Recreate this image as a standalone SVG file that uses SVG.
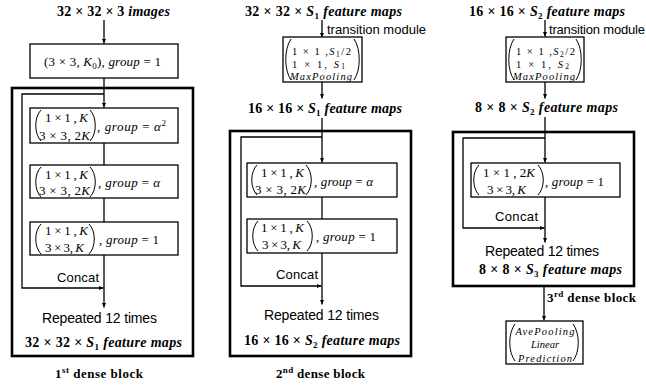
<svg xmlns="http://www.w3.org/2000/svg" width="646" height="386" viewBox="0 0 646 386">
<defs>
<marker id="ah" markerWidth="6" markerHeight="6" refX="5" refY="2.5" orient="auto" markerUnits="userSpaceOnUse"><path d="M0,0.3 L5,2.5 L0,4.7 z" fill="#000"/></marker>
<style>
.t{font-family:"Liberation Serif",serif;font-weight:bold;font-size:14px;fill:#000}
.i{font-style:italic}
.sub{font-size:9px}
.s{font-family:"Liberation Sans",Arial,sans-serif;font-size:13px;fill:#000}
.r{font-family:"Liberation Sans",Arial,sans-serif;font-size:14px;fill:#000}
.m{font-family:"Liberation Serif",serif;font-size:13px;fill:#000}
.mm{font-family:"Liberation Serif",serif;font-size:10.5px;fill:#000}
.b{font-family:"Liberation Serif",serif;font-weight:bold;font-size:13px;fill:#000}
.box{fill:#fff;stroke:#000;stroke-width:1.3}
.thick{fill:none;stroke:#000;stroke-width:2.6}
.ln{fill:none;stroke:#000;stroke-width:1.3}
.par{fill:none;stroke:#000;stroke-width:1}
</style>
</defs>
<rect width="646" height="386" fill="#fff"/>

<!-- thick block frames -->
<g id="block1"><rect class="thick" x="12" y="88" width="181" height="268"/></g>
<g id="block2"><rect class="thick" x="230" y="131" width="181" height="225"/></g>
<g id="block3"><rect class="thick" x="453" y="132" width="181" height="154"/></g>

<g id="connectors">
<!-- column 1 -->
<path class="ln" d="M104,20 V43.5" marker-end="url(#ah)"/>
<path class="ln" d="M104,78 V107.5" marker-end="url(#ah)"/>
<path class="ln" d="M104,94 H22 V288 H103.5" marker-end="url(#ah)"/>
<path class="ln" d="M104,143 V165"/>
<path class="ln" d="M104,198 V222"/>
<path class="ln" d="M104,255 V307.5" marker-end="url(#ah)"/>
<!-- column 2 -->
<path class="ln" d="M322,20 V37.5" marker-end="url(#ah)"/>
<path class="ln" d="M322,82 V98.5" marker-end="url(#ah)"/>
<path class="ln" d="M322,118 V162.5" marker-end="url(#ah)"/>
<path class="ln" d="M322,137 H241 V286 H321.5" marker-end="url(#ah)"/>
<path class="ln" d="M322,197 V219"/>
<path class="ln" d="M322,253 V304.5" marker-end="url(#ah)"/>
<!-- column 3 -->
<path class="ln" d="M545,20 V36.5" marker-end="url(#ah)"/>
<path class="ln" d="M545,82 V98.5" marker-end="url(#ah)"/>
<path class="ln" d="M545,117 V162.5" marker-end="url(#ah)"/>
<path class="ln" d="M545,138 H463 V228 H544.5" marker-end="url(#ah)"/>
<path class="ln" d="M545,197 V242.5" marker-end="url(#ah)"/>
<path class="ln" d="M544,286 V320.5" marker-end="url(#ah)"/>
</g>

<!-- column 1 -->
<g id="label-input"><text class="t" x="113.5" y="16" text-anchor="middle" textLength="113">32 × 32 × 3 <tspan class="i">images</tspan></text></g>

<g id="conv0">
<rect class="box" x="30" y="44" width="148" height="34"/>
<text class="m" x="44" y="66" textLength="117">(3 × 3, <tspan class="i">K</tspan><tspan class="sub" dy="3">0</tspan><tspan dy="-3">), </tspan><tspan class="i">group</tspan> = 1</text>
</g>

<g id="b1-n1">
<rect class="box" x="30" y="108" width="148" height="35"/>
<path class="par" d="M41,110 C34,117 34,134 41,141"/>
<path class="par" d="M90,110 C97,117 97,134 90,141"/>
<text class="m" x="45" y="122" textLength="43">1 × 1 , <tspan class="i">K</tspan></text>
<text class="m" x="39" y="139.5" textLength="51">3 × 3, 2<tspan class="i">K</tspan></text>
<text class="m" x="97" y="131" textLength="69">, <tspan class="i">group</tspan> = <tspan class="i">α</tspan><tspan class="sub" dy="-5">2</tspan></text>
</g>

<g id="b1-n2">
<rect class="box" x="30" y="165" width="148" height="33"/>
<path class="par" d="M41,167 C34,174 34,190 41,197"/>
<path class="par" d="M90,167 C97,174 97,190 90,197"/>
<text class="m" x="45" y="178.5" textLength="43">1 × 1 , <tspan class="i">K</tspan></text>
<text class="m" x="39" y="195" textLength="51">3 × 3, 2<tspan class="i">K</tspan></text>
<text class="m" x="98" y="187" textLength="62">, <tspan class="i">group</tspan> = <tspan class="i">α</tspan></text>
</g>

<g id="b1-n3">
<rect class="box" x="30" y="222" width="148" height="33"/>
<path class="par" d="M41,224 C34,231 34,247 41,254"/>
<path class="par" d="M89,224 C96,231 96,247 89,254"/>
<text class="m" x="45" y="235" textLength="43">1 × 1 , <tspan class="i">K</tspan></text>
<text class="m" x="45" y="252" textLength="39">3 × 3, <tspan class="i">K</tspan></text>
<text class="m" x="99" y="244" textLength="60">, <tspan class="i">group</tspan> = 1</text>
</g>

<g id="b1-labels">
<text class="s" x="57" y="282" textLength="42">Concat</text>
<text class="r" x="42" y="323" textLength="115">Repeated 12 times</text>
<text class="t" x="103.5" y="347" text-anchor="middle" textLength="157">32 × 32 × <tspan class="i">S</tspan><tspan class="sub" dy="3">1</tspan><tspan class="i" dy="-3"> feature maps</tspan></text>
<text class="b" x="55" y="378" textLength="88">1<tspan font-size="9" dy="-5">st</tspan><tspan dy="5"> dense block</tspan></text>
</g>

<!-- column 2 -->
<g id="label-c2-in"><text class="t" x="323.5" y="16" text-anchor="middle" textLength="157">32 × 32 × <tspan class="i">S</tspan><tspan class="sub" dy="3">1</tspan><tspan class="i" dy="-3"> feature maps</tspan></text></g>
<g id="label-t1"><text class="s" x="327" y="34" textLength="99">transition module</text></g>

<g id="trans1">
<rect class="box" x="283" y="37" width="79" height="45"/>
<path class="par" d="M291,39 C284,49 284,70 291,80"/>
<path class="par" d="M354,39 C361,49 361,70 354,80"/>
<text class="mm" x="292" y="55" textLength="59">1 × 1 ,<tspan class="i">S</tspan><tspan font-size="7.5" dy="1.5">1</tspan><tspan dy="-1.5">/2</tspan></text>
<text class="mm" x="292" y="67.5" textLength="53">1 × 1,   <tspan class="i">S</tspan><tspan font-size="7.5" dy="1.5">1</tspan></text>
<text class="mm i" x="290" y="80" textLength="62">MaxPooling</text>
</g>

<g id="label-c2-mid"><text class="t" x="325" y="113" text-anchor="middle" textLength="154">16 × 16 × <tspan class="i">S</tspan><tspan class="sub" dy="3">1</tspan><tspan class="i" dy="-3"> feature maps</tspan></text></g>

<g id="b2-n1">
<rect class="box" x="247" y="163" width="150" height="34"/>
<path class="par" d="M257,165 C250,172 250,188 257,195"/>
<path class="par" d="M306,165 C313,172 313,188 306,195"/>
<text class="m" x="261" y="177" textLength="43">1 × 1 , <tspan class="i">K</tspan></text>
<text class="m" x="255" y="193.5" textLength="51">3 × 3, 2<tspan class="i">K</tspan></text>
<text class="m" x="314" y="186" textLength="59">, <tspan class="i">group</tspan> = <tspan class="i">α</tspan></text>
</g>

<g id="b2-n2">
<rect class="box" x="247" y="219" width="150" height="34"/>
<path class="par" d="M258,221 C251,228 251,244 258,251"/>
<path class="par" d="M307,221 C314,228 314,244 307,251"/>
<text class="m" x="261" y="232" textLength="43">1 × 1 , <tspan class="i">K</tspan></text>
<text class="m" x="262" y="249" textLength="39">3 × 3, <tspan class="i">K</tspan></text>
<text class="m" x="316" y="241" textLength="60">, <tspan class="i">group</tspan> = 1</text>
</g>

<g id="b2-labels">
<text class="s" x="276" y="279" textLength="42">Concat</text>
<text class="r" x="264" y="320" textLength="115">Repeated 12 times</text>
<text class="t" x="322" y="345" text-anchor="middle" textLength="156">16 × 16 × <tspan class="i">S</tspan><tspan class="sub" dy="3">2</tspan><tspan class="i" dy="-3"> feature maps</tspan></text>
<text class="b" x="276" y="378" textLength="89">2<tspan font-size="9" dy="-5">nd</tspan><tspan dy="5"> dense block</tspan></text>
</g>

<!-- column 3 -->
<g id="label-c3-in"><text class="t" x="547" y="16" text-anchor="middle" textLength="156">16 × 16 × <tspan class="i">S</tspan><tspan class="sub" dy="3">2</tspan><tspan class="i" dy="-3"> feature maps</tspan></text></g>
<g id="label-t2"><text class="s" x="549" y="34" textLength="96">transition module</text></g>

<g id="trans2">
<rect class="box" x="506" y="37" width="78" height="45"/>
<path class="par" d="M514,39 C507,49 507,70 514,80"/>
<path class="par" d="M576,39 C583,49 583,70 576,80"/>
<text class="mm" x="516" y="55" textLength="59">1 × 1 ,<tspan class="i">S</tspan><tspan font-size="7.5" dy="1.5">2</tspan><tspan dy="-1.5">/2</tspan></text>
<text class="mm" x="516" y="67.5" textLength="53">1 × 1,   <tspan class="i">S</tspan><tspan font-size="7.5" dy="1.5">2</tspan></text>
<text class="mm i" x="513" y="80" textLength="62">MaxPooling</text>
</g>

<g id="label-c3-mid"><text class="t" x="546.5" y="112" text-anchor="middle" textLength="143">8 × 8 × <tspan class="i">S</tspan><tspan class="sub" dy="3">2</tspan><tspan class="i" dy="-3"> feature maps</tspan></text></g>

<g id="b3-n1">
<rect class="box" x="471" y="163" width="149" height="34"/>
<path class="par" d="M479,165 C472,172 472,188 479,195"/>
<path class="par" d="M538,165 C545,172 545,188 538,195"/>
<text class="m" x="483" y="177" textLength="52">1 × 1 , 2<tspan class="i">K</tspan></text>
<text class="m" x="487" y="193.5" textLength="39">3 × 3, <tspan class="i">K</tspan></text>
<text class="m" x="545" y="186" textLength="59">, <tspan class="i">group</tspan> = 1</text>
</g>

<g id="b3-labels">
<text class="s" x="495" y="221" textLength="43">Concat</text>
<text class="r" x="485" y="256" textLength="114">Repeated 12 times</text>
<text class="t" x="550.5" y="274" text-anchor="middle" textLength="143">8 × 8 × <tspan class="i">S</tspan><tspan class="sub" dy="3">3</tspan><tspan class="i" dy="-3"> feature maps</tspan></text>
<text class="b" x="547" y="302" textLength="89">3<tspan font-size="9" dy="-5">rd</tspan><tspan dy="5"> dense block</tspan></text>
</g>

<g id="output">
<rect class="box" x="506" y="321" width="77" height="43"/>
<path class="par" d="M515,324 C508,333 508,352 515,361"/>
<path class="par" d="M573,324 C580,333 580,352 573,361"/>
<text class="mm i" x="545" y="335" text-anchor="middle" textLength="59">AvePooling</text>
<text class="mm i" x="545" y="348" text-anchor="middle" textLength="28">Linear</text>
<text class="mm i" x="545" y="361.5" text-anchor="middle" textLength="54">Prediction</text>
</g>
</svg>
